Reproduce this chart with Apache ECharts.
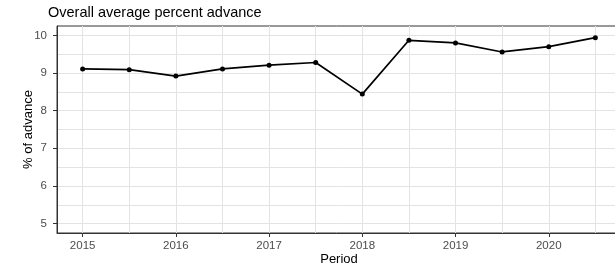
<!DOCTYPE html>
<html>
<head>
<meta charset="utf-8">
<script src="https://cdn.jsdelivr.net/npm/echarts@6/dist/echarts.min.js"></script>
<style>
	html, body { margin: 0; padding: 0; background: #fff; }
	#chart { width: 615px; height: 270px; }
</style>
</head>
<body>
<div id="chart"></div>
<script>
// 数据
var periods = [2015, 2015.5, 2016, 2016.5, 2017, 2017.5, 2018, 2018.5, 2019, 2019.5, 2020, 2020.5];
var advance = [9.11, 9.09, 8.92, 9.11, 9.21, 9.28, 8.44, 9.87, 9.80, 9.56, 9.70, 9.94];

// 刻度
var xMajor = [2015, 2016, 2017, 2018, 2019, 2020];
var xMinor = [2015.5, 2016.5, 2017.5, 2018.5, 2019.5, 2020.5];
var yMajor = [5, 6, 7, 8, 9, 10];
var yMinor = [5.5, 6.5, 7.5, 8.5, 9.5];

var xMin = 2014.725, xMax = 2020.775;
var yMin = 4.75, yMax = 10.25;

var gridColor = '#e3e3e3';
var labelColor = '#4d4d4d';
var font = 'Liberation Sans, Arial, sans-serif';

var myChart = echarts.init(document.getElementById('chart'));

var points = [];
for (var i = 0; i < periods.length; ++i) {
	points.push([periods[i], advance[i]]);
}

var option = {
	animation: false,
	title: {
		text: 'Overall average percent advance',
		left: 43,
		top: 0,
		textStyle: { fontFamily: font, fontSize: 14.5, fontWeight: 'normal', color: '#000' }
	},
	grid: {
		left: 57,
		right: -6,
		top: 26,
		bottom: 37,
		outerBoundsMode: 'none',
		show: true,
		borderColor: '#333',
		borderWidth: 1
	},
	xAxis: [{
		type: 'value',
		min: xMin,
		max: xMax,
		name: 'Period',
		nameLocation: 'middle',
		nameGap: 20,
		nameMoveOverlap: false,
		nameTextStyle: { fontFamily: font, fontSize: 13, color: '#000' },
		axisLine: { show: true, lineStyle: { color: '#333', width: 1 } },
		axisTick: { show: true, length: 4, customValues: xMajor, lineStyle: { color: '#333' } },
		axisLabel: {
			customValues: xMajor,
			formatter: function(v) { return String(v); },
			fontFamily: font, fontSize: 11.5, color: labelColor, margin: 7
		},
		splitLine: { show: true, lineStyle: { color: gridColor, width: 1 } }
	}, {
		type: 'value',
		min: xMin,
		max: xMax,
		position: 'bottom',
		axisLine: { show: false },
		axisTick: { show: false, customValues: xMinor },
		axisLabel: { show: false },
		splitLine: { show: true, lineStyle: { color: gridColor, width: 1 } }
	}],
	yAxis: [{
		type: 'value',
		min: yMin,
		max: yMax,
		name: '% of advance',
		nameLocation: 'middle',
		nameGap: 22,
		nameMoveOverlap: false,
		nameTextStyle: { fontFamily: font, fontSize: 13, color: '#000' },
		axisLine: { show: true, lineStyle: { color: '#333', width: 1 } },
		axisTick: { show: true, length: 4, customValues: yMajor, lineStyle: { color: '#333' } },
		axisLabel: { customValues: yMajor, fontFamily: font, fontSize: 11.5, color: labelColor, margin: 10 },
		splitLine: { show: true, lineStyle: { color: gridColor, width: 1 } }
	}, {
		type: 'value',
		min: yMin,
		max: yMax,
		position: 'left',
		axisLine: { show: false },
		axisTick: { show: false, customValues: yMinor },
		axisLabel: { show: false },
		splitLine: { show: true, lineStyle: { color: gridColor, width: 1 } }
	}],
	series: [{
		type: 'line',
		data: points,
		symbol: 'circle',
		symbolSize: 5,
		itemStyle: { color: '#000' },
		lineStyle: { color: '#000', width: 1.7 },
		z: 5
	}]
};

myChart.setOption(option);
</script>
</body>
</html>
